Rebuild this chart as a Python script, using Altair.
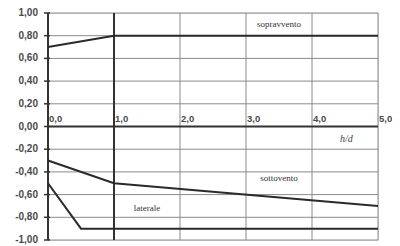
import altair as alt
import pandas as pd

# data
x_sopra = [0.0, 1.0, 5.0]
y_sopra = [0.70, 0.80, 0.80]
x_sotto = [0.0, 1.0, 5.0]
y_sotto = [-0.30, -0.50, -0.70]
x_lat = [0.0, 0.5, 5.0]
y_lat = [-0.50, -0.90, -0.90]

x_ticks = [0, 1, 2, 3, 4, 5]
x_tick_labels = ["0,0", "1,0", "2,0", "3,0", "4,0", "5,0"]
y_ticks = [1.0, 0.8, 0.6, 0.4, 0.2, 0.0, -0.2, -0.4, -0.6, -0.8, -1.0]
y_tick_labels = ["1,00", "0,80", "0,60", "0,40", "0,20", "0,00",
                 "-0,20", "-0,40", "-0,60", "-0,80", "-1,00"]

ann_text = ["sopravvento", "sottovento", "laterale"]
ann_x = [3.5, 3.5, 1.5]
ann_y = [0.90, -0.45, -0.72]

rows = []
for name, xs, ys in [("sopravvento", x_sopra, y_sopra),
                     ("sottovento", x_sotto, y_sotto),
                     ("laterale", x_lat, y_lat)]:
    for i, (a, b) in enumerate(zip(xs, ys)):
        rows.append({"serie": name, "x": a, "y": b, "o": i})
lines_df = pd.DataFrame(rows)

xscale = alt.Scale(domain=[0, 5], nice=False, zero=False)
yscale = alt.Scale(domain=[-1, 1], nice=False)


def X(field="x"):
    return alt.X(f"{field}:Q", scale=xscale, axis=None)


def Y(field="y"):
    return alt.Y(f"{field}:Q", scale=yscale, axis=None)


yt_df = pd.DataFrame({"y": y_ticks, "t": y_tick_labels, "x": [0.0] * len(y_ticks)})
xt_df = pd.DataFrame({"x": x_ticks, "t": x_tick_labels, "y": [0.0] * len(x_ticks)})

hgrid = alt.Chart(yt_df).mark_rule(color="#8a8a8a", strokeWidth=1).encode(y=Y())
vgrid = alt.Chart(xt_df).mark_rule(color="#8a8a8a", strokeWidth=1).encode(x=X())

dark_v = alt.Chart(pd.DataFrame({"x": [0.0, 1.0]})).mark_rule(color="#333", strokeWidth=2).encode(x=X())
dark_h = alt.Chart(pd.DataFrame({"y": [0.0]})).mark_rule(color="#333", strokeWidth=2).encode(y=Y())

yticks = alt.Chart(yt_df).mark_rule(color="#333", strokeWidth=1.5).encode(
    y=Y(), x=alt.value(-4), x2=alt.value(2))

ylabels = alt.Chart(yt_df).mark_text(align="right", baseline="middle", dx=-10,
                                     font="Liberation Sans", fontSize=10, fontWeight="bold",
                                     color="#4a4a4a").encode(x=X(), y=Y(), text="t:N")

xlabels = alt.Chart(xt_df).mark_text(align="left", baseline="bottom", dx=1, dy=-3,
                                     font="Liberation Sans", fontSize=9.5, fontWeight="bold",
                                     color="#4a4a4a").encode(x=X(), y=Y(), text="t:N")

lines = alt.Chart(lines_df).mark_line(color="#2a2a2a", strokeWidth=2).encode(
    x=X(), y=Y(), detail="serie:N", order="o:Q")

ann_df = pd.DataFrame({"x": ann_x, "y": ann_y, "t": ann_text})
ann = alt.Chart(ann_df).mark_text(font="Liberation Serif", fontSize=9, color="#333").encode(
    x=X(), y=Y(), text="t:N")

hd_df = pd.DataFrame({"x": [4.52], "y": [-0.11], "t": ["h/d"]})
hd = alt.Chart(hd_df).mark_text(font="Liberation Serif", fontSize=10, fontStyle="italic",
                                color="#444").encode(x=X(), y=Y(), text="t:N")

chart = alt.layer(hgrid, vgrid, dark_v, dark_h, lines, yticks, ylabels, xlabels, ann, hd).properties(
    width=330, height=227,
    autosize=alt.AutoSizeParams(type="none"),
    padding={"left": 40, "top": 5, "right": 14, "bottom": 5},
).configure_view(stroke="#8a8a8a", strokeWidth=1.5).configure(background="white")

chart.save("out.html", embed_options={"renderer": "svg", "actions": False})
